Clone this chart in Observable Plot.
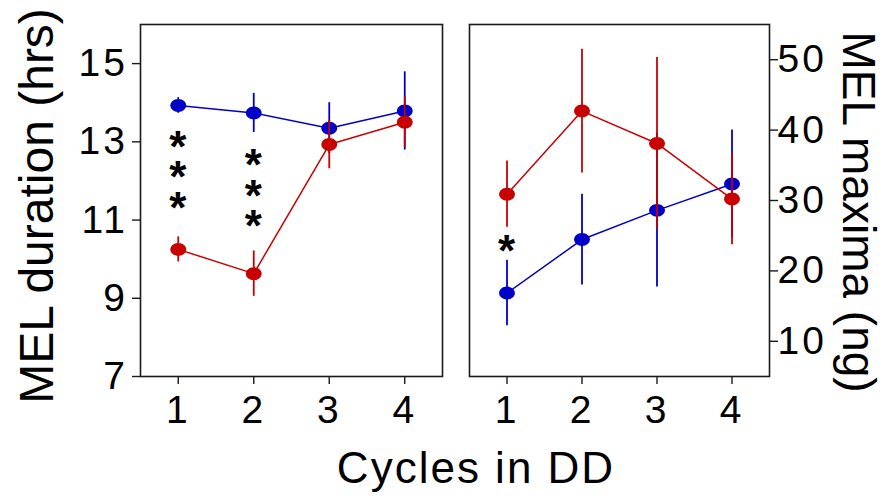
<!DOCTYPE html>
<html><head><meta charset="utf-8">
<script src="https://cdn.jsdelivr.net/npm/d3@7"></script>
<script src="https://cdn.jsdelivr.net/npm/@observablehq/plot@0.6"></script>
<style>
html,body{margin:0;padding:0;background:#fff;}
#fig{position:relative;width:886px;height:496px;overflow:hidden;font-family:"Liberation Sans",Arial,sans-serif;}
#fig > svg{position:absolute;top:0;}
</style></head><body><div id="fig"></div>
<script>
// ---- data ----
const cycles = [1, 2, 3, 4];
const durBlue = [13.93, 13.74, 13.35, 13.79];
const durBlueErr = [0.2, 0.5, 0.65, 1.0];
const durRed = [10.25, 9.63, 12.93, 13.5];
const durRedErr = [0.32, 0.58, 0.62, 0.65];
const maxBlue = [16.85, 24.45, 28.6, 32.35];
const maxBlueErr = [4.65, 6.45, 10.9, 7.65];
const maxRed = [30.9, 42.7, 38.1, 30.2];
const maxRedErr = [4.7, 8.8, 12.2, 6.5];
const durTicks = [7, 9, 11, 13, 15];
const maxTicks = [10, 20, 30, 40, 50];
const durStars = [
  {cycle: 1, value: 12.24, label: "*\n*\n*"},
  {cycle: 2, value: 11.77, label: "*\n*\n*"}
];
const maxStars = [{cycle: 1, value: 23.6, label: "*"}];
const xTitle = "Cycles in DD";
const leftTitle = "MEL duration (hrs)";
const rightTitle = "MEL maxima (ng)";

const BLUE = "#0000c8";
const RED = "#c80000";
const FONT = "'Liberation Sans', Arial, sans-serif";

const ellipse = {
  draw(ctx, size) {
    const r = Math.sqrt(size / Math.PI), rx = r * 1.1, ry = r * 0.9, k = 0.5523;
    ctx.moveTo(rx, 0);
    ctx.bezierCurveTo(rx, ry * k, rx * k, ry, 0, ry);
    ctx.bezierCurveTo(-rx * k, ry, -rx, ry * k, -rx, 0);
    ctx.bezierCurveTo(-rx, -ry * k, -rx * k, -ry, 0, -ry);
    ctx.bezierCurveTo(rx * k, -ry, rx, -ry * k, rx, 0);
    ctx.closePath();
  }
};

function panel({yDomain, yTicks, yAnchor, tickPadding, blue, blueErr, red, redErr, stars, marginLeft, marginRight, width}) {
  const rows = (vals, errs) => cycles.map((c, i) => ({cycle: c, value: vals[i], lo: vals[i] - errs[i], hi: vals[i] + errs[i]}));
  const B = rows(blue, blueErr), R = rows(red, redErr);
  const marks = [];
  for (const [data, color] of [[B, BLUE], [R, RED]]) {
    marks.push(Plot.ruleX(data, {x: "cycle", y1: "lo", y2: "hi", stroke: color, strokeWidth: 1.8}));
    marks.push(Plot.line(data, {x: "cycle", y: "value", stroke: color, strokeWidth: 1.5}));
    marks.push(Plot.dot(data, {x: "cycle", y: "value", fill: color, r: 7.2, symbol: ellipse}));
  }
  marks.push(Plot.text(stars, {x: "cycle", y: "value", text: "label", fontSize: 44, fontWeight: "bold", lineHeight: 0.69, dy: 11, dx: 1, fill: "#000"}));
  marks.push(Plot.frame({stroke: "#1a1a1a", strokeWidth: 1.6}));
  marks.push(Plot.axisX({ticks: cycles, tickFormat: d => String(d), tickSize: 8, tickPadding: 11, label: null, stroke: "#1a1a1a", strokeWidth: 1.4}));
  marks.push(Plot.axisY({anchor: yAnchor, ticks: yTicks, tickFormat: d => String(d), tickSize: 8, tickPadding, label: null, stroke: "#1a1a1a", strokeWidth: 1.4}));
  return Plot.plot({
    width, height: 496, marginTop: 24, marginBottom: 120, marginLeft, marginRight,
    x: {domain: [0.5, 4.5]},
    y: {domain: yDomain},
    style: {fontSize: "39px", fontFamily: FONT, letterSpacing: "3px", color: "#000", background: "transparent", overflow: "visible"},
    marks
  });
}

const fig = document.getElementById("fig");
const left = panel({yDomain: [7, 16], yTicks: durTicks, yAnchor: "left", tickPadding: 4.5,
  blue: durBlue, blueErr: durBlueErr, red: durRed, redErr: durRedErr, stars: durStars,
  marginLeft: 140, marginRight: 8, width: 450});
left.style.left = "0px";
fig.appendChild(left);
const right = panel({yDomain: [5, 55], yTicks: maxTicks, yAnchor: "right", tickPadding: 0,
  blue: maxBlue, blueErr: maxBlueErr, red: maxRed, redErr: maxRedErr, stars: maxStars,
  marginLeft: 19, marginRight: 116, width: 435});
right.style.left = "450px";
fig.appendChild(right);

const overlay = d3.create("svg").attr("width", 886).attr("height", 496)
  .style("pointer-events", "none").style("left", "0px")
  .attr("font-family", FONT).attr("fill", "#000");
overlay.append("text").attr("x", 476).attr("y", 483).attr("text-anchor", "middle")
  .attr("font-size", 44).attr("letter-spacing", "2px").text(xTitle);
overlay.append("text").attr("transform", "translate(53,206) rotate(-90)").attr("text-anchor", "middle")
  .attr("font-size", 48).text(leftTitle);
overlay.append("text").attr("transform", "translate(843,212) rotate(90)").attr("text-anchor", "middle")
  .attr("font-size", 46).text(rightTitle);
fig.appendChild(overlay.node());
</script></body></html>
